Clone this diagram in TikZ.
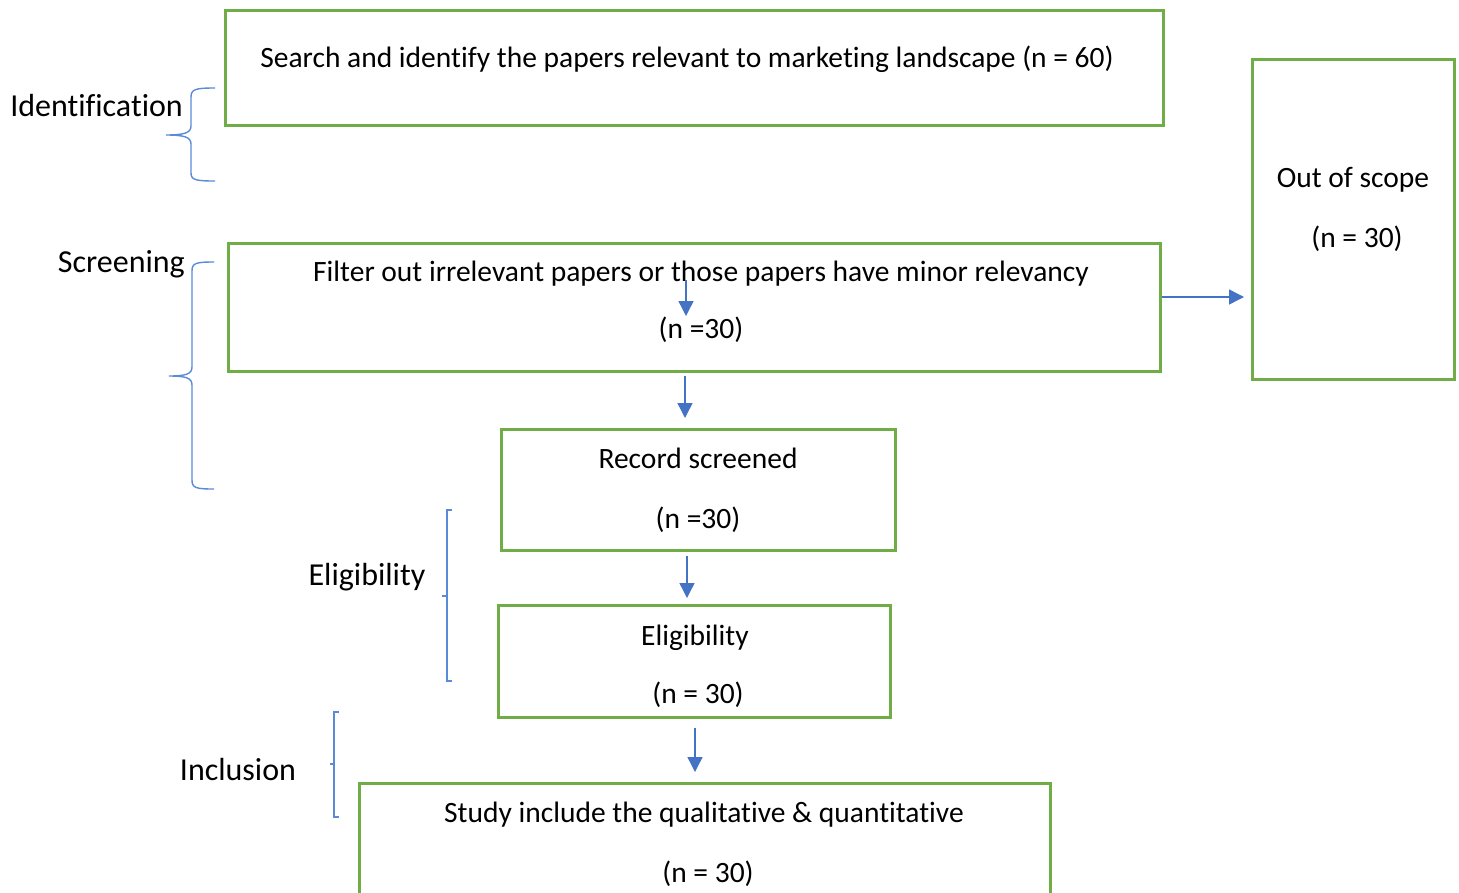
\documentclass[tikz,border=0pt]{standalone}
\usepackage{fontspec}
\setmainfont{Carlito}[Ligatures={NoCommon}]
\usetikzlibrary{arrows.meta}
\definecolor{boxgreen}{HTML}{70AD47}
\definecolor{arrowblue}{HTML}{4472C4}
\definecolor{braceblue}{HTML}{5B8AD6}
\tikzset{
  box/.style={draw=boxgreen, line width=3pt, inner sep=0pt},
  txt/.style={anchor=base, inner sep=0pt, font=\fontsize{29.5}{34}\selectfont},
  lbl/.style={anchor=base, inner sep=0pt, font=\fontsize{32}{36}\selectfont},
  flowarrow/.style={draw=arrowblue, line width=1.4pt, -{Triangle[width=15pt,length=15pt]}},
  bracepath/.style={draw=braceblue, line width=1.4pt}
}
\begin{document}
\begin{tikzpicture}[x=1pt,y=-1pt]
\useasboundingbox (0,0) rectangle (1459,892);
\clip (0,0) rectangle (1459,892);
% boxes
\node[box, minimum width=938pt, minimum height=115pt] (b1) at (694,67.5) {};
\node[box, minimum width=932pt, minimum height=128pt] (b2) at (694,307) {};
\node[box, minimum width=202pt, minimum height=320pt] (b3) at (1353,219) {};
\node[box, minimum width=394pt, minimum height=121pt] (b4) at (698,489.5) {};
\node[box, minimum width=392pt, minimum height=112pt] (b5) at (694,661) {};
\node[box, minimum width=691pt, minimum height=160pt] (b6) at (704.5,863) {};
% texts
\node[txt] (t1) at (687,67) {Search and identify the papers relevant to marketing landscape (n = 60)};
\node[txt] (t2a) at (701,281) {Filter out irrelevant papers or those papers have minor relevancy};
\node[txt] (t2b) at (701,338) {(n =30)};
\node[txt] (t3a) at (1353,187) {Out of scope};
\node[txt] (t3b) at (1357,247) {(n = 30)};
\node[txt] (t4a) at (698,468) {Record screened};
\node[txt] (t4b) at (698,528) {(n =30)};
\node[txt] (t5a) at (695,645) {Eligibility};
\node[txt] (t5b) at (698,703) {(n = 30)};
\node[txt] (t6a) at (704,822) {Study include the qualitative \& quantitative};
\node[txt] (t6b) at (708,882) {(n = 30)};
% stage labels
\node[lbl, anchor=base east] (l1) at (183,116) {Identification};
\node[lbl, anchor=base east] (l2) at (185,272) {Screening};
\node[lbl] (l3) at (367,585) {Eligibility};
\node[lbl] (l4) at (238,780) {Inclusion};
% arrows
\coordinate (a1s) at (686,280); \coordinate (a1e) at (686,316);
\coordinate (a2s) at (685,376); \coordinate (a2e) at (685,418);
\coordinate (a3s) at (687,556); \coordinate (a3e) at (687,598);
\coordinate (a4s) at (695,728); \coordinate (a4e) at (695,772);
\coordinate (a5s) at (b2.east |- 0,297); \coordinate (a5e) at (1244,297);
\draw[flowarrow] (a1s) -- (a1e);
\draw[flowarrow] (a2s) -- (a2e);
\draw[flowarrow] (a3s) -- (a3e);
\draw[flowarrow] (a4s) -- (a4e);
\draw[flowarrow] (a5s) -- (a5e);
% braces
\draw[bracepath] (215,88) .. controls (196,88) and (191,89) .. (191,97) -- (191,126)
  .. controls (191,133) and (184,135) .. (166,135)
  .. controls (184,135) and (191,137) .. (191,144) -- (191,173)
  .. controls (191,180) and (196,181) .. (215,181);
\draw[bracepath] (214,262) .. controls (196,262) and (192,263) .. (192,271) -- (192,367)
  .. controls (192,374) and (186,376) .. (169,376)
  .. controls (186,376) and (192,378) .. (192,385) -- (192,480)
  .. controls (192,488) and (196,489) .. (214,489);
\draw[bracepath] (452,510) -- (447,510) -- (447,681) -- (452,681);
\draw[bracepath] (442,596) -- (447,596);
\draw[bracepath] (339,712) -- (334,712) -- (334,817) -- (339,817);
\draw[bracepath] (330,764) -- (334,764);
\end{tikzpicture}
\end{document}
